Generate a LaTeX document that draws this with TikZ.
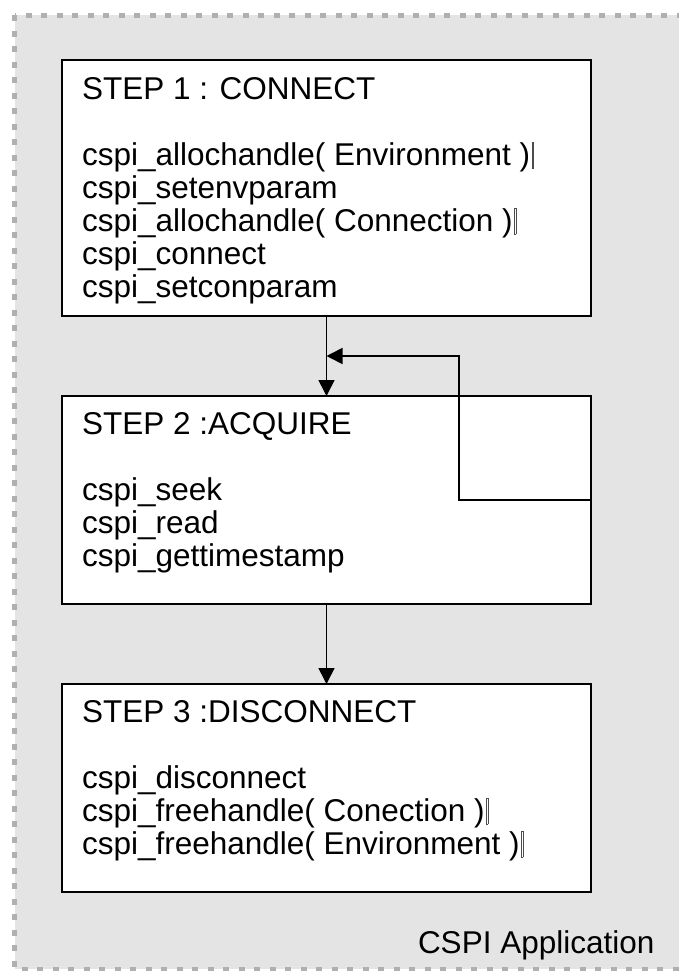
\documentclass[tikz,border=0pt]{standalone}
\usepackage{fontspec}
\setmainfont{Liberation Sans}
\usetikzlibrary{arrows.meta}

\definecolor{panelfill}{HTML}{E4E4E4}
\definecolor{paneldash}{HTML}{B0B0B0}

% thin empty glyph box printed after some closing parentheses
\newcommand{\strayglyph}{\kern1.5bp{\color{black!70}\fboxsep=0pt\fboxrule=0.5bp\fbox{\rule[-3bp]{0pt}{26bp}\kern1.2bp}}}

\begin{document}
\begin{tikzpicture}[x=1bp,y=-1bp,
  stepbox/.style={draw=black, line width=1.8bp, fill=white, minimum width=529bp,
                  inner sep=0pt, outer sep=0pt},
  txt/.style={anchor=base west, inner sep=0pt, outer sep=0pt,
              font=\fontsize{31.5bp}{33bp}\selectfont},
  flow/.style={line width=1.6bp, -{Triangle[length=16bp,width=16bp]}}]

\useasboundingbox (0,0) rectangle (679,971);

% application panel (its right edge lies outside the page)
\begin{scope}
  \clip (0,0) rectangle (679,971);
  \draw[fill=panelfill, draw=paneldash, line width=5bp,
        dash pattern=on 6bp off 9.5bp] (14.5,15) rectangle (720,969);
\end{scope}

% step boxes
\node[stepbox, minimum height=256bp] (s1) at (326.5,188) {};
\node[stepbox, minimum height=208bp] (s2) at (326.5,500) {};
\node[stepbox, minimum height=208bp] (s3) at (326.5,788) {};

% step 1 text
\node[txt] (s1title) at (82,99)  {STEP 1 : CONNECT};
\node[txt] (s1a)     at (82,165) {cspi\_allochandle( Environment )\strayglyph};
\node[txt] (s1b)     at (82,198) {cspi\_setenvparam};
\node[txt] (s1c)     at (82,231) {cspi\_allochandle( Connection )\strayglyph};
\node[txt] (s1d)     at (82,264) {cspi\_connect};
\node[txt] (s1e)     at (82,297) {cspi\_setconparam};

% step 2 text
\node[txt] (s2title) at (82,434) {STEP 2 :ACQUIRE};
\node[txt] (s2a)     at (82,500) {cspi\_seek};
\node[txt] (s2b)     at (82,533) {cspi\_read};
\node[txt] (s2c)     at (82,566) {cspi\_gettimestamp};

% step 3 text
\node[txt] (s3title) at (82,722) {STEP 3 :DISCONNECT};
\node[txt] (s3a)     at (82,788) {cspi\_disconnect};
\node[txt] (s3b)     at (82,821) {cspi\_freehandle( Conection )\strayglyph};
\node[txt] (s3c)     at (82,854) {cspi\_freehandle( Environment )\strayglyph};

% panel caption
\node[txt] (applabel) at (418,953) {CSPI Application};

% flow connectors
\coordinate (rejoin)   at (s1.south |- 0,356);
\coordinate (loopturn) at (459,356);
\draw[flow] (s1.south) -- (s2.north);
\draw[flow] (s2.east) -| (loopturn) -- (rejoin);
\draw[flow] (s2.south) -- (s3.north);

\end{tikzpicture}
\end{document}
